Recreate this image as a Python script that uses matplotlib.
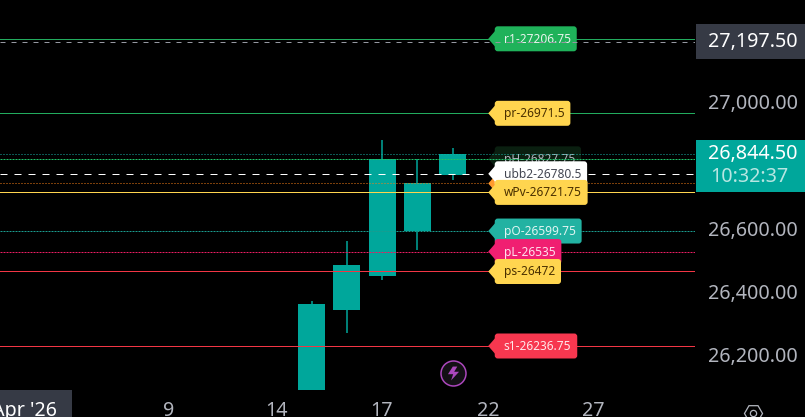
import matplotlib
matplotlib.use('Agg')
import matplotlib.pyplot as plt
from matplotlib.patches import FancyBboxPatch, Polygon, Rectangle
from matplotlib.path import Path
from matplotlib.transforms import Affine2D

plt.rcParams['font.family'] = ['Noto Sans', 'DejaVu Sans']

# Candles, x is counted in sessions from the 17th
candle_x = [-2, -1, 0, 1, 2]
opens = [26080, 26349, 26459, 26599, 26776]
closes = [26368, 26491, 26826, 26750, 26844.5]
highs = [26380, 26567, 26886, 26828, 26863.5]
lows = [26080, 26279, 26444.5, 26539, 26760]

day_labels = ['9', '14', '17', '22', '27']
day_pos = [-6.05, -3, 0, 3, 6]
price_ticks = [27000, 26600, 26400, 26200]

# Levels, drawn in this order
level_names = ['r1', 'pr', 'pH', '', 'ubb2', 'wPv', 'pO', 'pL', 'ps', 's1']
level_prices = [27206.75, 26971.5, 26827.75, 26749.9, 26780.5, 26721.75, 26599.75, 26535, 26472, 26236.75]
level_text = ['r1-27206.75', 'pr-26971.5', 'pH-26827.75', '', 'ubb2-26780.5', 'wPv-26721.75',
              'pO-26599.75', 'pL-26535', 'ps-26472', 's1-26236.75']
line_colors = ['#22ab5e', '#22ab5e', '#1fc46a', '#f57f17', '#ffffff', '#ffd54f', '#1a9c8f', '#e91e63', '#f23645', '#f23645']
line_styles = ['-', '-', (0, (2, 1)), (0, (1, 2)), (0, (7, 7)), '-', (0, (2, 1)), (0, (2, 1)), '-', '-']
tag_colors = ['#1fb25a', '#ffd54f', '#0a1f10', '#ff9a2e', '#ffffff', '#ffd54f', '#22b2a2', '#f01f71', '#ffd54f', '#f7374f']
tag_text_colors = ['#e8f5ec', '#4a3000', '#b2b5be', '#000000', '#434651', '#4a3000', '#e0f5f2', '#ffe0ec', '#4a3000', '#ffe8ea']

last_price = 26844.5
cross_price = 27197.5
last_label = '26,844.50'
countdown = '10:32:37'
cross_label = '27,197.50'
cross_date = "Apr '26"

TEAL = '#00a79b'
GREY = '#b2b5be'
W, H = 805, 417
PANE_W, PANE_H = 695, 390
PX = 35.25        # pixels per session
X0 = 382          # pixel of session 0
tag_x = 3         # tags hang off this session
LW = 0.72         # one pixel

fig = plt.figure(figsize=(W / 100, H / 100), dpi=100, facecolor='black')
ax = fig.add_axes([0, (H - PANE_H) / H, PANE_W / W, PANE_H / H], facecolor='black')
ax.set_xlim(-X0 / PX, (PANE_W - X0) / PX)
ax.set_ylim(26236.75 - 44 / 0.3167, 26236.75 + 346 / 0.3167)
ax.axis('off')

# candles
ax.vlines(candle_x, lows, highs, color=TEAL, lw=1.1, zorder=2)
ax.bar(candle_x, [c - o for o, c in zip(opens, closes)], bottom=opens, width=27 / PX, color=TEAL, zorder=2)

# level lines, pH tag sits under the lines
for price, c, ls in zip(level_prices, line_colors, line_styles):
    ax.axhline(price, color=c, ls=ls, lw=LW, zorder=3)
ax.axhline(last_price, color='#17b3a6', ls=(0, (1, 2)), lw=LW, zorder=3)


def draw_tag(price, txt, fc, tc, z):
    ox, oy = ax.transData.transform((tag_x, price))
    t = ax.text(ox + 16, oy - 0.5, txt, transform=None, color=tc, fontsize=8.6, va='center', ha='left', zorder=z + 0.05)
    tw = t.get_window_extent(fig.canvas.get_renderer()).width if txt else 30
    tr = Affine2D().translate(ox, oy)
    ax.add_patch(FancyBboxPatch((9, -10.5), tw + 11, 21, boxstyle='round,pad=2,rounding_size=3',
                                fc=fc, ec='none', transform=tr, zorder=z))
    ax.add_patch(Polygon([(0.5, 0), (7.5, -8), (7.5, 8)], closed=True, fc=fc, ec='none', transform=tr, zorder=z))


for i in range(len(level_prices)):
    z = 2.5 if level_names[i] == 'pH' else 4 + i * 0.1
    draw_tag(level_prices[i], level_text[i], tag_colors[i], tag_text_colors[i], z)

# crosshair line runs over the tags
ax.axhline(cross_price, color='#9598a1', ls=(0, (5, 6)), lw=LW, zorder=8)

# price scale
scale_x = 753 / PANE_W
for p in price_ticks:
    ax.annotate(f'{p:,.2f}', xy=(scale_x, p), xycoords=ax.get_yaxis_transform(), xytext=(0, 0.3),
                textcoords='offset points', color=GREY, fontsize=14.2, ha='center', va='center', annotation_clip=False)

sec = ax.get_yaxis_transform()
ax.add_patch(Rectangle((696 / PANE_W, cross_price - 17.5 / 0.3167), 109 / PANE_W, 35 / 0.3167,
                       fc='#363a45', ec='none', transform=sec, clip_on=False, zorder=9))
ax.annotate(cross_label, xy=(scale_x, cross_price), xycoords=sec, xytext=(0, 0), textcoords='offset points',
            color='white', fontsize=14.2, ha='center', va='center', zorder=10, annotation_clip=False)
ax.add_patch(Rectangle((696 / PANE_W, last_price - 38.7 / 0.3167), 109 / PANE_W, 52.7 / 0.3167,
                       fc=TEAL, ec='none', transform=sec, clip_on=False, zorder=9))
ax.annotate(last_label, xy=(scale_x, last_price), xycoords=sec, xytext=(0, -0.5), textcoords='offset points',
            color='white', fontsize=14.2, ha='center', va='center', zorder=10, annotation_clip=False)
ax.annotate(countdown, xy=(710 / PANE_W, last_price), xycoords=sec, xytext=(0, -17), textcoords='offset points',
            color='#b8e6e2', fontsize=14.2, ha='left', va='center', zorder=10, annotation_clip=False)

# time scale
time_y = (PANE_H - 411) / PANE_H
for lab, pos in zip(day_labels, day_pos):
    ax.text(pos, time_y, lab, transform=ax.get_xaxis_transform(), color=GREY, fontsize=14.2,
            ha='center', va='center', clip_on=False)
ax.add_patch(Rectangle((0, -27 / PANE_H), 72 / PANE_W, 27 / PANE_H, fc='#363a45', ec='none',
                       transform=ax.transAxes, clip_on=False, zorder=9))
ax.text(24 / PANE_W, time_y, cross_date, transform=ax.transAxes, color='white', fontsize=14.2,
        ha='center', va='center', clip_on=False, zorder=10)

# lightning badge
bolt = Path([(-0.1, 1), (-0.8, -0.1), (-0.05, -0.1), (-0.35, -1), (0.8, 0.25), (0.1, 0.25), (0.55, 1), (-0.1, 1)], closed=True)
ax.plot([(453 - X0) / PX], [26236.75 - 26.5 / 0.3167], marker='o', ms=18, mfc='#131015', mec='#ab47bc', mew=1.1, zorder=6)
ax.plot([(453 - X0) / PX], [26236.75 - 26.5 / 0.3167], marker=bolt, ms=10, mfc='#ab47bc', mec='none', zorder=7)

# settings icon
ax.plot([753 / PANE_W], [-23 / PANE_H], marker='H', ms=13, mfc='none', mec=GREY, mew=0.9,
        transform=ax.transAxes, clip_on=False)
ax.plot([753 / PANE_W], [-23 / PANE_H], marker='o', ms=4.5, mfc='none', mec=GREY, mew=0.9,
        transform=ax.transAxes, clip_on=False)

fig.savefig('out.png', dpi=100, facecolor='black')
